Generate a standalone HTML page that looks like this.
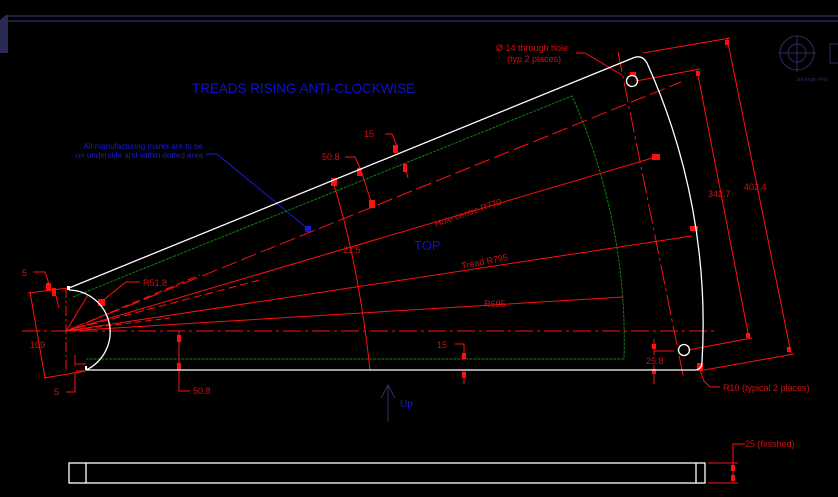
<!DOCTYPE html>
<html><head><meta charset="utf-8"><style>
html,body{margin:0;padding:0;background:#000;}
svg{display:block;}
text{font-family:"Liberation Sans",sans-serif;}
</style></head><body>
<svg width="838" height="497" viewBox="0 0 838 497" xmlns="http://www.w3.org/2000/svg">
<rect width="838" height="497" fill="#000"/>
<line x1="7" y1="16" x2="838" y2="16" stroke="#3a3a70" stroke-width="1"/>
<line x1="7" y1="21" x2="838" y2="21" stroke="#3a3a70" stroke-width="1"/>
<polygon points="0,20 6,15 8,15 8,53 0,53" fill="#2a2a55"/>
<g stroke="#2a2a66" fill="none">
<circle cx="797" cy="53" r="17"/><circle cx="797" cy="53" r="9"/>
<line x1="778" y1="53" x2="816" y2="53"/><line x1="797" y1="35" x2="797" y2="72"/>
<path d="M838,44 H830 V63 H838"/>
</g>
<text x="796" y="81" font-size="5" fill="#2a2a66">3rd Angle Proj</text>

<text x="192" y="93" font-size="14" fill="#1010d0" textLength="223" lengthAdjust="spacingAndGlyphs">TREADS RISING ANTI-CLOCKWISE</text>
<text x="414" y="250" font-size="13" fill="#1010d0">TOP</text>
<text x="203" y="149" font-size="8" fill="#1a1ad0" text-anchor="end">All manufacturing marks are to be</text>
<text x="203" y="158" font-size="8" fill="#1a1ad0" text-anchor="end">on underside and within dotted area</text>
<polyline points="206,154 217,154 308,229" stroke="#1a1ad0" fill="none"/>
<rect x="305" y="226" width="6" height="6" fill="#1a1ad0"/>

<path d="M73,297 L572,96 A600,600 0 0 1 624,359 L86,359" stroke="#108010" fill="none" stroke-dasharray="3,1"/>

<g stroke="#ff1010" fill="none" stroke-width="1">
<line x1="22" y1="331" x2="718" y2="331" stroke-dasharray="18,4,3,4"/>
<line x1="66" y1="331" x2="681" y2="82" stroke-dasharray="16,5"/>
<line x1="66" y1="331" x2="656" y2="157"/>
<line x1="66" y1="331" x2="692" y2="236"/>
<line x1="66" y1="331" x2="623" y2="297"/>
<line x1="66" y1="331" x2="200" y2="275" stroke-dasharray="8,4"/>
<line x1="66" y1="331" x2="260" y2="280" stroke-dasharray="8,4"/>
<line x1="66" y1="331" x2="170" y2="318" stroke-dasharray="6,4"/>
<line x1="66" y1="331" x2="88" y2="295" />
<line x1="66" y1="288" x2="66" y2="372" stroke-dasharray="10,3,2,3"/>
<path d="M618,52 L684,380" stroke-dasharray="20,4,3,4"/>
<path d="M333,182 Q358,260 370,370"/>
<polyline points="345,157 355,157 361,170 372,205"/>
<polyline points="385,134 392,134 397,146"/>
<line x1="404" y1="163" x2="408" y2="178"/>
<line x1="643" y1="53" x2="730" y2="38"/>
<line x1="727" y1="38" x2="791" y2="353"/>
<line x1="704" y1="370" x2="794" y2="354"/>
<line x1="636" y1="81" x2="700" y2="69"/>
<line x1="697" y1="70" x2="749" y2="338"/>
<line x1="688" y1="350" x2="752" y2="338"/>
<line x1="654" y1="339" x2="654" y2="355"/><line x1="654" y1="351" x2="674" y2="351"/>
<line x1="654" y1="365" x2="654" y2="384"/>
<polyline points="455,344 464,344 464,360"/><line x1="464" y1="371" x2="464" y2="384"/>
<line x1="179" y1="331" x2="179" y2="370"/><polyline points="179,370 179,391 190,391"/>
<line x1="28" y1="293" x2="68" y2="288"/>
<line x1="30" y1="292" x2="45" y2="378"/>
<line x1="44" y1="378" x2="86" y2="371"/>
<polyline points="33,272 45,272 49,284"/>
<line x1="56" y1="296" x2="59" y2="308"/>
<line x1="76" y1="364" x2="86" y2="364"/><line x1="76" y1="371" x2="86" y2="371"/>
<line x1="75" y1="355" x2="75" y2="366"/><polyline points="75,372 75,392 66,392"/>
<polyline points="101,302 126,282 140,282"/>
<polyline points="576,53 585,53 622,75"/>
<polyline points="700,370 704,381 710,387 720,387"/>
<polyline points="745,444 733,444 733,483"/>
<line x1="708" y1="463" x2="738" y2="463"/><line x1="708" y1="483" x2="738" y2="483"/>
</g>
<g fill="#ff1010">
<rect x="46" y="283" width="5" height="8"/><rect x="52" y="288" width="4" height="8"/>
<rect x="98" y="299" width="7" height="7"/>
<rect x="331" y="178" width="6" height="8"/><rect x="357" y="168" width="5" height="8"/>
<rect x="369" y="200" width="6" height="8"/><rect x="393" y="145" width="5" height="8"/>
<rect x="403" y="164" width="4" height="8"/>
<rect x="652" y="154" width="8" height="6"/><rect x="630" y="72" width="6" height="4"/>
<rect x="690" y="226" width="8" height="5"/>
<rect x="725" y="40" width="4" height="5"/><rect x="696" y="71" width="4" height="5"/>
<rect x="787" y="347" width="4" height="5"/><rect x="746" y="333" width="4" height="5"/>
<rect x="697" y="363" width="6" height="8"/>
<rect x="177" y="335" width="4" height="7"/><rect x="177" y="363" width="4" height="7"/>
<rect x="462" y="353" width="4" height="6"/><rect x="462" y="372" width="4" height="6"/>
<rect x="652" y="344" width="4" height="5"/><rect x="652" y="369" width="4" height="5"/>
<rect x="731" y="465" width="4" height="6"/><rect x="731" y="475" width="4" height="6"/>
</g>
<g fill="#d01010" font-size="9">
<text x="364" y="137">15</text>
<text x="322" y="160">50.8</text>
<text x="343" y="253">22.5</text>
<text x="436" y="227" transform="rotate(-19 436 227)">Hole centre R770</text>
<text x="462" y="269" transform="rotate(-11 462 269)">Tread R795</text>
<text x="484" y="307">R695</text>
<text x="143" y="286">R51.8</text>
<text x="22" y="276">5</text>
<text x="30" y="348">109</text>
<text x="54" y="395">5</text>
<text x="193" y="394">50.8</text>
<text x="437" y="348">15</text>
<text x="646" y="364">25.8</text>
<text x="723" y="391">R10 (typical 2 places)</text>
<text x="496" y="51">Ø 14 through hole</text>
<text x="507" y="62">(typ 2 places)</text>
<text x="708" y="197">342.7</text>
<text x="744" y="190">402.4</text>
<text x="745" y="447">25 (finished)</text>
</g>

<g stroke="#fff" fill="none" stroke-width="1.3">
<path d="M69,288 L633,58 Q642,54 647,63 A634,634 0 0 1 702,362 Q702,370 694,370 L86,370"/>
<path d="M69,290 A42,42 0 0 1 86,370"/>
<circle cx="632" cy="81" r="5.5"/>
<circle cx="684" cy="350" r="5.5"/>
<rect x="69" y="463" width="636" height="20"/>
<line x1="86" y1="463" x2="86" y2="483"/><line x1="696" y1="463" x2="696" y2="483"/>
</g>
<rect x="67" y="286" width="3" height="4" fill="#fff"/><rect x="85" y="366" width="2" height="4" fill="#fff"/>

<g stroke="#30306a" fill="none"><line x1="388" y1="385" x2="388" y2="422"/><polyline points="381,398 388,385 395,398"/></g>
<text x="400" y="407" font-size="10" fill="#1a1ad0">Up</text>
</svg>
</body></html>
